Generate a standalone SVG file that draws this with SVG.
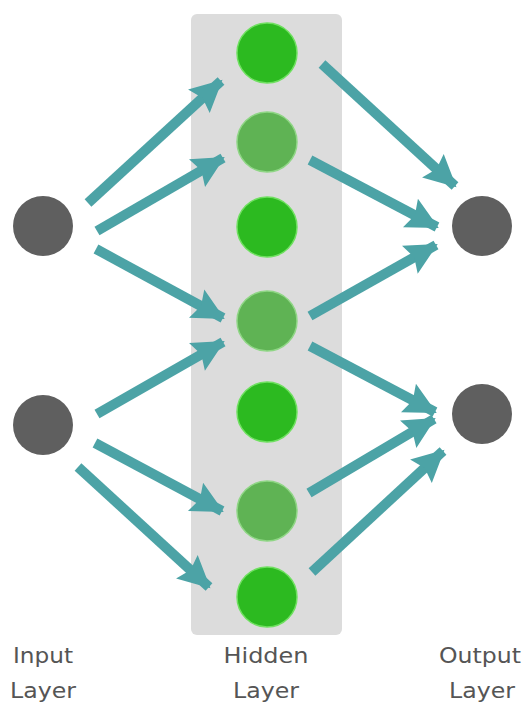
<svg xmlns="http://www.w3.org/2000/svg" width="526" height="702" viewBox="0 0 526 702">
<style>
.bright{fill:#2cba20;stroke:#6fe060;stroke-width:1.5}
.muted{fill:#5fb354;stroke:#8fd685;stroke-width:1.5}
.io{fill:#5f5f5f}
.conn line{stroke:#4ca3a6;stroke-width:10;marker-end:url(#ah)}
.lbl{font-family:"DejaVu Sans",sans-serif;font-size:21px;fill:#555;text-anchor:middle}
</style>
<defs>
<marker id="ah" markerUnits="userSpaceOnUse" viewBox="0 0 32 36" refX="30" refY="18" markerWidth="32" markerHeight="36" orient="auto" overflow="visible">
<path d="M0,2 L32,18 L0,34 L5,18 z" fill="#4ca3a6"/>
</marker>
</defs>
<rect width="526" height="702" fill="#fff"/>
<rect id="hidden-layer-box" x="191" y="14" width="151" height="621" rx="6" fill="#dcdcdc"/>
<g class="conn" id="connectors">
<line x1="88" y1="203" x2="221" y2="81"/>
<line x1="97" y1="231" x2="223" y2="158"/>
<line x1="96" y1="249" x2="223" y2="318"/>
<line x1="97" y1="414" x2="223" y2="342"/>
<line x1="95" y1="443" x2="222" y2="511"/>
<line x1="78" y1="467" x2="209" y2="587"/>
<line x1="322" y1="64" x2="455" y2="186"/>
<line x1="310" y1="160" x2="437" y2="227"/>
<line x1="310" y1="316" x2="436" y2="245"/>
<line x1="310" y1="346" x2="435" y2="412"/>
<line x1="309" y1="493" x2="434" y2="419"/>
<line x1="312" y1="572" x2="443" y2="451"/>
</g>
<g id="input1"><circle class="io" cx="43" cy="226" r="30"/></g>
<g id="input2"><circle class="io" cx="43" cy="425" r="30"/></g>
<g id="hidden1"><circle class="bright" cx="267" cy="53" r="30"/></g>
<g id="hidden2"><circle class="muted" cx="267" cy="142" r="30"/></g>
<g id="hidden3"><circle class="bright" cx="267" cy="227" r="30"/></g>
<g id="hidden4"><circle class="muted" cx="267" cy="321" r="30"/></g>
<g id="hidden5"><circle class="bright" cx="267" cy="412" r="30"/></g>
<g id="hidden6"><circle class="muted" cx="267" cy="511" r="30"/></g>
<g id="hidden7"><circle class="bright" cx="267" cy="597" r="30"/></g>
<g id="output1"><circle class="io" cx="482" cy="226" r="30"/></g>
<g id="output2"><circle class="io" cx="482" cy="414" r="30"/></g>
<g id="labels">
<text class="lbl" x="43" y="663" textLength="60" lengthAdjust="spacingAndGlyphs">Input</text>
<text class="lbl" x="43" y="698" textLength="66" lengthAdjust="spacingAndGlyphs">Layer</text>
<text class="lbl" x="266" y="663" textLength="85" lengthAdjust="spacingAndGlyphs">Hidden</text>
<text class="lbl" x="266" y="698" textLength="66" lengthAdjust="spacingAndGlyphs">Layer</text>
<text class="lbl" x="480" y="663" textLength="82" lengthAdjust="spacingAndGlyphs">Output</text>
<text class="lbl" x="482" y="698" textLength="66" lengthAdjust="spacingAndGlyphs">Layer</text>
</g>
</svg>
